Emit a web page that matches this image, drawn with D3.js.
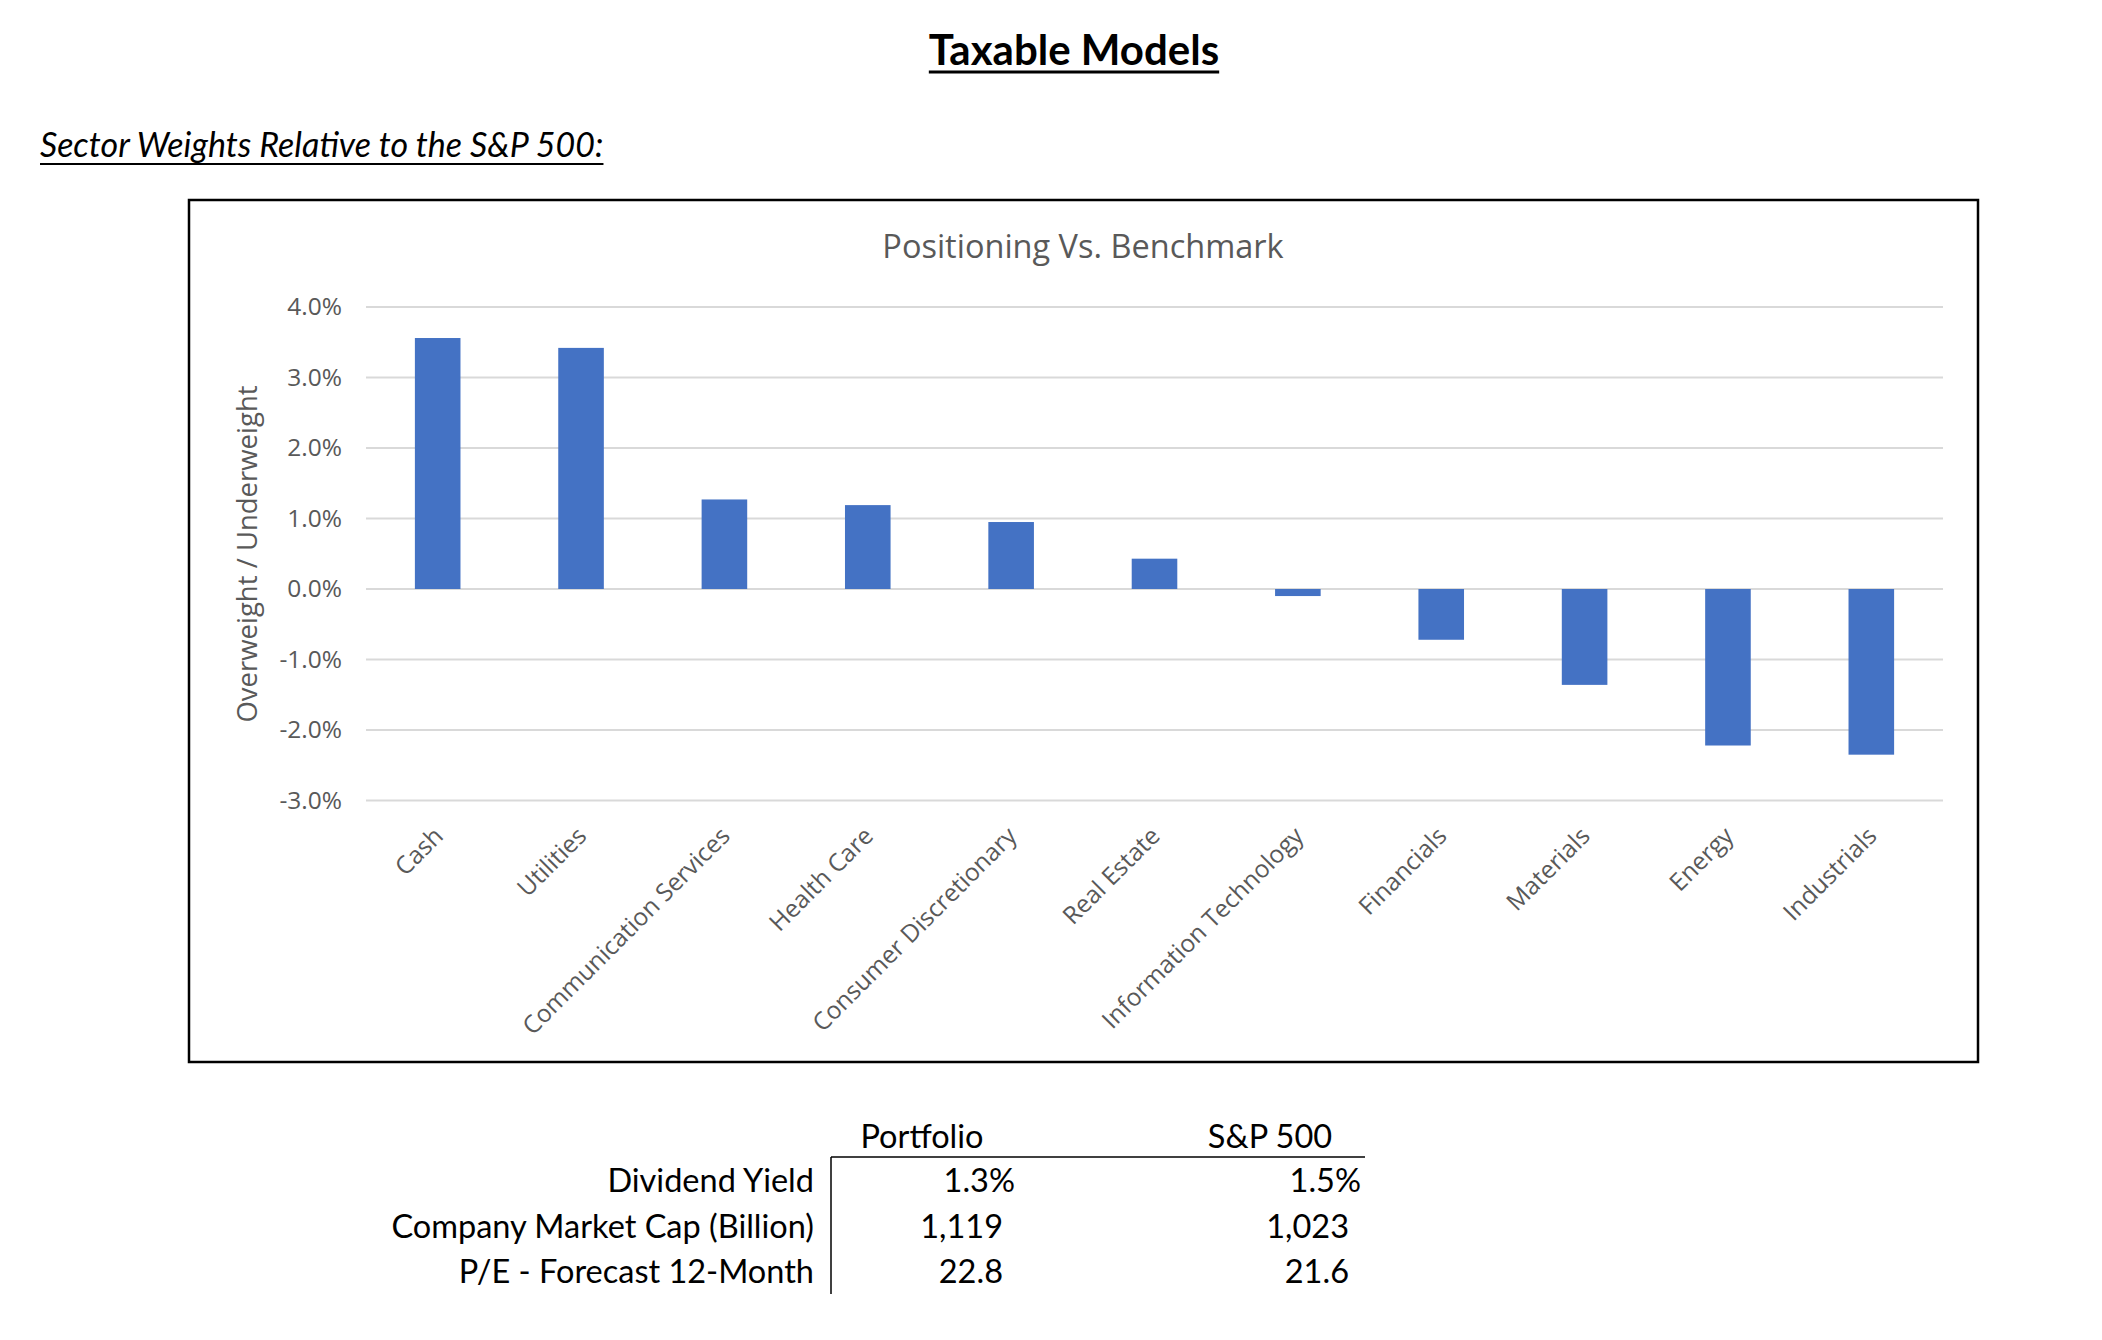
<!DOCTYPE html>
<html>
<head>
<meta charset="utf-8">
<script src="https://cdn.jsdelivr.net/npm/d3@7"></script>
<style>
  body { margin: 0; background: #fff; }
  text { font-family: "Open Sans", sans-serif; }
  .doc { font-family: Lato, "Open Sans", sans-serif; fill: #000; }
  .axis text { fill: #595959; font-size: 24.5px; }
</style>
</head>
<body>
<script>
// sectors, sorted as in the chart
let sectors = ["Cash", "Utilities", "Communication Services", "Health Care",
  "Consumer Discretionary", "Real Estate", "Information Technology",
  "Financials", "Materials", "Energy", "Industrials"];
// overweight / underweight vs benchmark, in %
let weights = [3.56, 3.42, 1.27, 1.19, 0.95, 0.43, -0.10, -0.72, -1.36, -2.22, -2.35];
let yTicks = [4, 3, 2, 1, 0, -1, -2, -3];

// table below the chart
let tableCols = ["Portfolio", "S&P 500"];
let tableRows = ["Dividend Yield", "Company Market Cap (Billion)", "P/E - Forecast 12-Month"];
let portfolioVals = ["1.3%", "1,119", "22.8"];
let spVals = ["1.5%", "1,023", "21.6"];

let svgWidth = 2102;
let svgHeight = 1340;

var svg = d3.select("body")
  .append("svg")
  .attr("width", svgWidth)
  .attr("height", svgHeight);

svg.append("rect").attr("width", svgWidth).attr("height", svgHeight).attr("fill", "#fff");

//Page headings
var t1 = svg.append("text")
  .attr("class", "doc")
  .attr("x", 1074)
  .attr("y", 65)
  .attr("text-anchor", "middle")
  .attr("font-size", "42px")
  .attr("font-weight", "bold")
  .text("Taxable Models");
var b1 = t1.node().getBBox();
svg.append("line")
  .attr("x1", b1.x).attr("x2", b1.x + b1.width)
  .attr("y1", 72).attr("y2", 72)
  .attr("stroke", "#000").attr("stroke-width", 3);

var t2 = svg.append("text")
  .attr("class", "doc")
  .attr("x", 40)
  .attr("y", 157)
  .attr("font-size", "34px")
  .attr("font-style", "italic")
  .text("Sector Weights Relative to the S&P 500:");
var b2 = t2.node().getBBox();
svg.append("line")
  .attr("x1", b2.x).attr("x2", b2.x + b2.width)
  .attr("y1", 164).attr("y2", 164)
  .attr("stroke", "#000").attr("stroke-width", 2);

//Chart frame
svg.append("rect")
  .attr("x", 189).attr("y", 200)
  .attr("width", 1789).attr("height", 862)
  .attr("fill", "none")
  .attr("stroke", "#000")
  .attr("stroke-width", 2.5);

svg.append("text")
  .attr("x", 1083)
  .attr("y", 258)
  .attr("text-anchor", "middle")
  .attr("font-size", "32.5px")
  .attr("fill", "#595959")
  .text("Positioning Vs. Benchmark");

//Scales
var plotLeft = 366, plotRight = 1943;
var xScale = d3.scaleBand()
  .domain(sectors)
  .range([plotLeft, plotRight])
  .paddingInner(0.682)
  .paddingOuter(0.341);

var yScale = d3.scaleLinear()
  .domain([-3, 4])
  .range([800.5, 307]);

//Gridlines
svg.append("g")
  .selectAll("line")
  .data(yTicks)
  .enter()
  .append("line")
  .attr("x1", plotLeft)
  .attr("x2", plotRight)
  .attr("y1", d => yScale(d))
  .attr("y2", d => yScale(d))
  .attr("stroke", "#d9d9d9")
  .attr("stroke-width", 2);

//y axis
var leftAxis = d3.axisLeft(yScale)
  .tickValues(yTicks)
  .tickSize(0)
  .tickPadding(24)
  .tickFormat(d => d.toFixed(1) + "%");

svg.append("g")
  .attr("class", "axis")
  .attr("transform", `translate(${plotLeft},0)`)
  .call(leftAxis)
  .call(g => g.select(".domain").remove());

//Bars
svg.append("g")
  .selectAll("rect")
  .data(weights)
  .enter()
  .append("rect")
  .attr("x", (d, i) => xScale(sectors[i]))
  .attr("width", xScale.bandwidth())
  .attr("y", d => yScale(Math.max(d, 0)))
  .attr("height", d => Math.abs(yScale(d) - yScale(0)))
  .attr("fill", "#4472c4");

//x axis labels
var bottomAxis = d3.axisBottom(xScale).tickSize(0);
svg.append("g")
  .attr("class", "axis")
  .attr("transform", `translate(0,${yScale(-3)})`)
  .call(bottomAxis)
  .call(g => g.select(".domain").remove())
  .selectAll("text")
  .attr("text-anchor", "end")
  .attr("y", 0)
  .attr("dy", 0)
  .attr("transform", "translate(7,37) rotate(-45)");

//y axis title
svg.append("text")
  .attr("transform", "translate(257,554) rotate(-90)")
  .attr("text-anchor", "middle")
  .attr("font-size", "27.5px")
  .attr("fill", "#595959")
  .text("Overweight / Underweight");

//Table
var colRight = [1003, 1349];
var colCenter = [922, 1270];
var rowY = [1192, 1238, 1283];

svg.append("g").selectAll("text")
  .data(tableCols)
  .enter()
  .append("text")
  .attr("class", "doc")
  .attr("x", (d, i) => colCenter[i])
  .attr("y", 1148)
  .attr("text-anchor", "middle")
  .attr("font-size", "32.5px")
  .text(d => d);

svg.append("line")
  .attr("x1", 831).attr("x2", 1365)
  .attr("y1", 1157).attr("y2", 1157)
  .attr("stroke", "#000").attr("stroke-width", 1.5);
svg.append("line")
  .attr("x1", 831).attr("x2", 831)
  .attr("y1", 1157).attr("y2", 1294)
  .attr("stroke", "#000").attr("stroke-width", 1.5);

svg.append("g").selectAll("text")
  .data(tableRows)
  .enter()
  .append("text")
  .attr("class", "doc")
  .attr("x", 814)
  .attr("y", (d, i) => rowY[i])
  .attr("text-anchor", "end")
  .attr("font-size", "32.5px")
  .text(d => d);

[portfolioVals, spVals].forEach(function(vals, c) {
  svg.append("g").selectAll("text")
    .data(vals)
    .enter()
    .append("text")
    .attr("class", "doc")
    .attr("x", d => colRight[c] + (d.endsWith("%") ? 12 : 0))
    .attr("y", (d, i) => rowY[i])
    .attr("text-anchor", "end")
    .attr("font-size", "32.5px")
    .text(d => d);
});
</script>
</body>
</html>
